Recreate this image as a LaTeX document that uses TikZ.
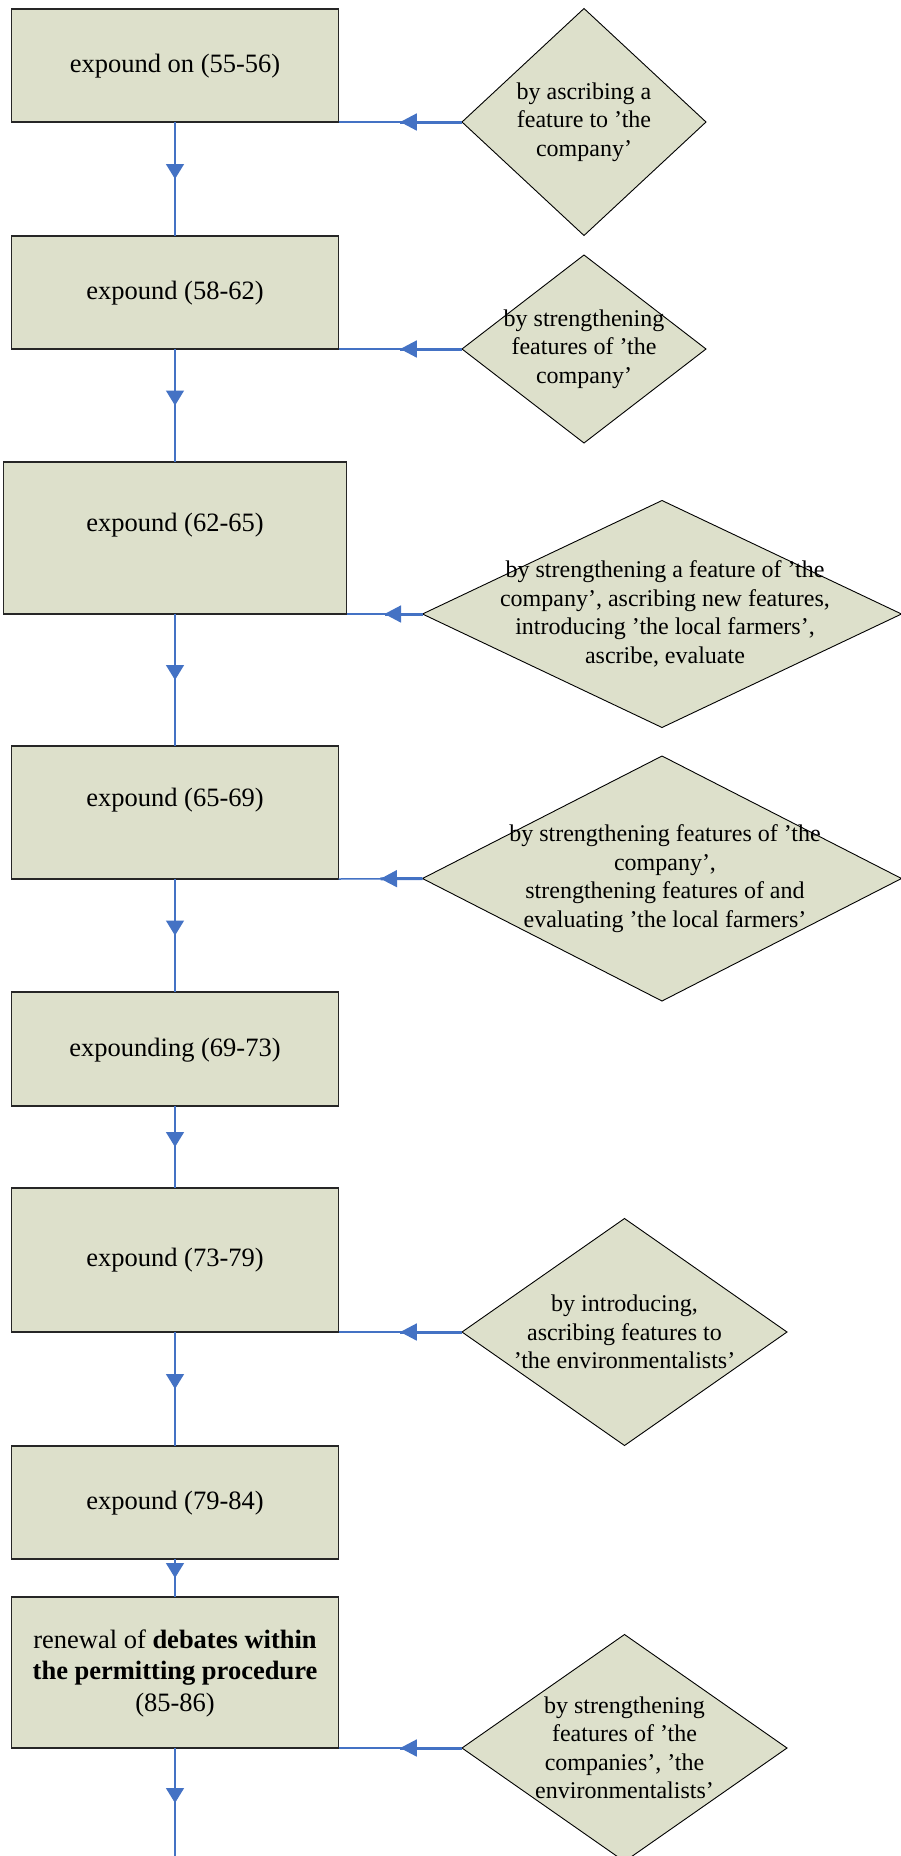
\documentclass[tikz,border=0pt]{standalone}
\usepackage{fontspec}
\setmainfont{Liberation Serif}
\usetikzlibrary{shapes.geometric,arrows.meta,decorations.markings,calc}

\definecolor{boxfill}{RGB}{221,224,203}
\definecolor{linkblue}{RGB}{68,114,196}

\tikzset{
  stepbox/.style={rectangle, draw=black!85, line width=1.1pt, fill=boxfill,
    outer sep=0pt, inner sep=0pt},
  cond/.style={diamond, draw=black, line width=0.9pt, fill=boxfill,
    outer sep=0pt, inner sep=0pt},
  boxtext/.style={align=center, inner sep=0pt,
    font=\fontsize{26.5}{31.5}\selectfont},
  condtext/.style={align=center, inner sep=0pt,
    font=\fontsize{24}{28.5}\selectfont},
  flow/.style={draw=linkblue, line width=1.4pt, postaction={decorate},
    decoration={markings, mark=at position 0.5 with
      {\arrow[linkblue]{Triangle[length=15pt,width=18pt]}}}},
  feed/.style={draw=linkblue, line width=1.5pt, postaction={decorate},
    decoration={markings, mark=at position 0.5 with
      {\arrow[linkblue]{Triangle[length=16.5pt,width=17pt]}}}},
  feedthick/.style={draw=linkblue, line width=3pt},
}

\begin{document}
\begin{tikzpicture}[x=1pt,y=-1pt]
\useasboundingbox (0,0) rectangle (901,1856);
\clip (0,0) rectangle (901,1856);

% main sequence of steps
\node[stepbox, minimum width=327pt, minimum height=113pt] (b1) at (175,65.5) {};
\node[stepbox, minimum width=327pt, minimum height=113pt] (b2) at (175,292.5) {};
\node[stepbox, minimum width=343pt, minimum height=152pt] (b3) at (175,538) {};
\node[stepbox, minimum width=327pt, minimum height=133pt] (b4) at (175,812.5) {};
\node[stepbox, minimum width=327pt, minimum height=114pt] (b5) at (175,1049) {};
\node[stepbox, minimum width=327pt, minimum height=144pt] (b6) at (175,1260) {};
\node[stepbox, minimum width=327pt, minimum height=113pt] (b7) at (175,1502.5) {};
\node[stepbox, minimum width=327pt, minimum height=151pt] (b8) at (175,1672.5) {};
\coordinate (tail) at (175,1858);

\node[boxtext] (t1) at (175,66.5) {expound on (55-56)};
\node[boxtext] (t2) at (175,293) {expound (58-62)};
\node[boxtext] (t3) at (175,525) {expound (62-65)};
\node[boxtext] (t4) at (175,800.5) {expound (65-69)};
\node[boxtext] (t5) at (175,1050) {expounding (69-73)};
\node[boxtext] (t6) at (175,1260) {expound (73-79)};
\node[boxtext] (t7) at (175,1503) {expound (79-84)};
\node[boxtext] (t8) at (175,1673) {renewal of \textbf{debates within}\\
  \textbf{the permitting procedure}\\(85-86)};

% side conditions
\node[cond, minimum width=244pt, minimum height=227pt] (d1) at (584,122) {};
\node[cond, minimum width=244pt, minimum height=188pt] (d2) at (584,349) {};
\node[cond, minimum width=479pt, minimum height=227pt] (d3) at (662,614) {};
\node[cond, minimum width=479pt, minimum height=245pt] (d4) at (662,878.5) {};
\node[cond, minimum width=325pt, minimum height=227pt] (d6) at (624.5,1332) {};
\node[cond, minimum width=325pt, minimum height=227pt] (d8) at (624.5,1748) {};

\node[condtext] (c1) at (d1.center) {by ascribing a\\feature to ’the\\company’};
\node[condtext] (c2) at (d2.center) {by strengthening\\features of ’the\\company’};
\node[condtext] (c3) at (665,614) {by strengthening a feature of ’the\\
  company’, ascribing new features,\\introducing ’the local farmers’,\\ascribe, evaluate};
\node[condtext] (c4) at (665,878.5) {by strengthening features of ’the\\company’,\\
  strengthening features of and\\evaluating ’the local farmers’};
\node[condtext] (c6) at (d6.center) {by introducing,\\ascribing features to\\’the environmentalists’};
\node[condtext] (c8) at (d8.center) {by strengthening\\features of ’the\\companies’, ’the\\environmentalists’};

% flow between steps
\draw[flow] (b1.south) -- (b2.north);
\draw[flow] (b2.south) -- (b3.north);
\draw[flow] (b3.south) -- (b4.north);
\draw[flow] (b4.south) -- (b5.north);
\draw[flow] (b5.south) -- (b6.north);
\draw[flow] (b6.south) -- (b7.north);
\draw[flow] (b7.south) -- (b8.north);
\draw[flow] (b8.south) -- (tail);

% conditions feeding into steps
\foreach \d/\b in {d1/b1, d2/b2, d3/b3, d4/b4, d6/b6, d8/b8}{
  \draw[feed] (\d.west) -- (\b.south east);
  \draw[feedthick] (\d.west) -- ($(\d.west)!0.5!(\b.south east)$);
}
\end{tikzpicture}
\end{document}
